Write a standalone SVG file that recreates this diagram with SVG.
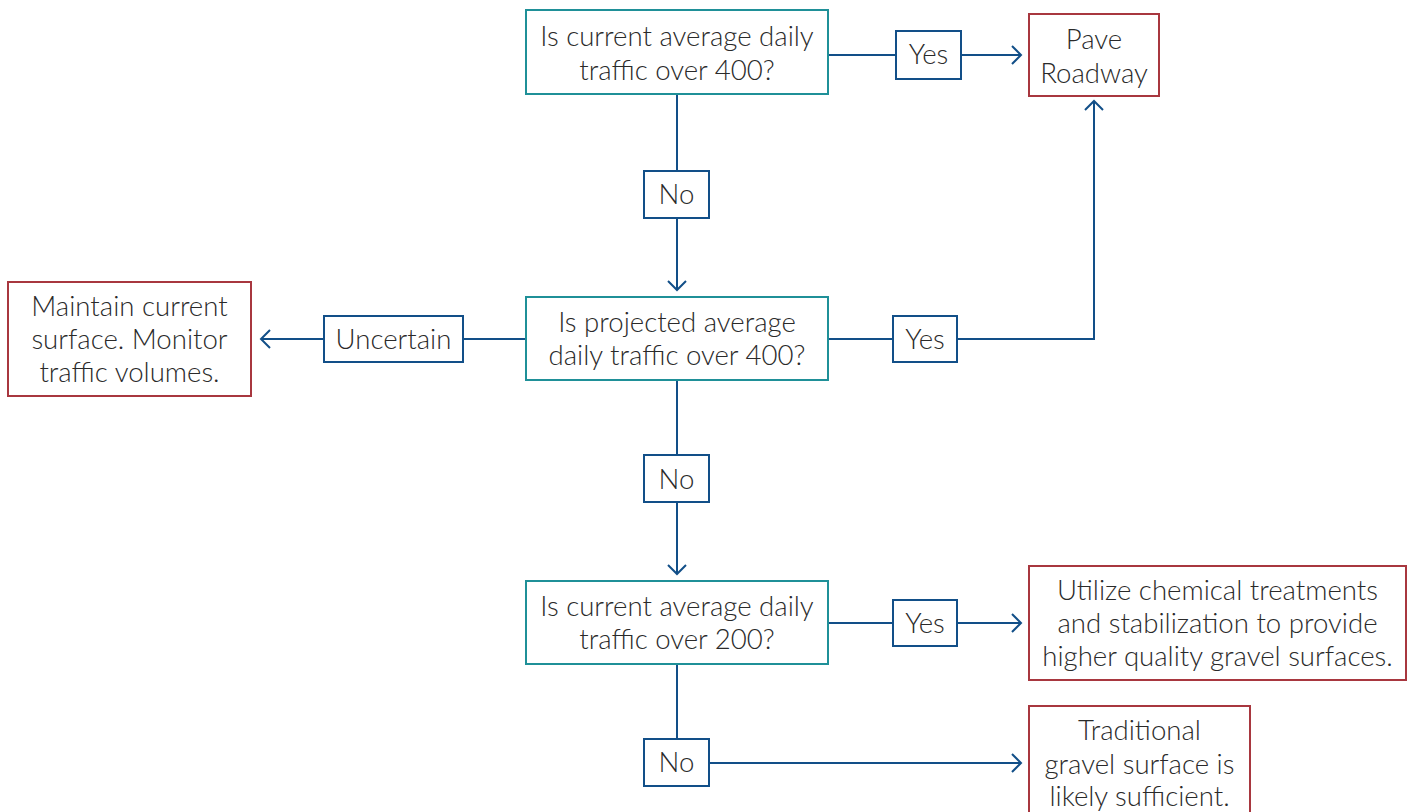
<svg xmlns="http://www.w3.org/2000/svg" width="1414" height="812" viewBox="0 0 1414 812">
<style>
text{font-family:Lato,"Open Sans","Liberation Sans",sans-serif;font-weight:300;font-size:27.6px;fill:#2a2a2a;text-anchor:middle}
.q{fill:#fff;stroke:#1f9098;stroke-width:2}
.r{fill:#fff;stroke:#a8373f;stroke-width:2}
.l{fill:#fff;stroke:#124f88;stroke-width:2}
.c{fill:none;stroke:#124f88;stroke-width:2}
</style>
<defs>
<marker id="ah" markerUnits="userSpaceOnUse" markerWidth="24" markerHeight="24" viewBox="-12 -12 24 24" refX="0" refY="0" orient="auto">
<path d="M-9,-9 L0,0 L-9,9" fill="none" stroke="#124f88" stroke-width="2"/>
</marker>
</defs>
<g id="connectors">
<path class="c" d="M828,55 H896"/>
<path class="c" d="M961,55 H1021" marker-end="url(#ah)"/>
<path class="c" d="M677,94 V171"/>
<path class="c" d="M677,218 V290" marker-end="url(#ah)"/>
<path class="c" d="M526,339 H463"/>
<path class="c" d="M324,339 H261" marker-end="url(#ah)"/>
<path class="c" d="M828,339 H893"/>
<path class="c" d="M957,339 H1094 V101" marker-end="url(#ah)"/>
<path class="c" d="M677,380 V455"/>
<path class="c" d="M677,502 V574" marker-end="url(#ah)"/>
<path class="c" d="M828,623 H893"/>
<path class="c" d="M957,623 H1021" marker-end="url(#ah)"/>
<path class="c" d="M677,664 V739"/>
<path class="c" d="M709,763 H1021" marker-end="url(#ah)"/>
</g>
<g id="q1"><rect class="q" x="526" y="10" width="302" height="84"/><text x="677" y="46">Is current average daily</text><text x="677" y="80">traffic over 400?</text></g>
<g id="yes1"><rect class="l" x="896" y="31" width="65" height="48"/><text x="928.5" y="64">Yes</text></g>
<g id="pave"><rect class="r" x="1029" y="14" width="130" height="82"/><text x="1094" y="49">Pave</text><text x="1094" y="83">Roadway</text></g>
<g id="no1"><rect class="l" x="644" y="171" width="65" height="47"/><text x="676.5" y="204">No</text></g>
<g id="q2"><rect class="q" x="526" y="297" width="302" height="83"/><text x="677" y="332">Is projected average</text><text x="677" y="365">daily traffic over 400?</text></g>
<g id="uncertain"><rect class="l" x="324" y="316" width="139" height="46"/><text x="393.5" y="349">Uncertain</text></g>
<g id="maintain"><rect class="r" x="8" y="282" width="243" height="114"/><text x="129.5" y="316">Maintain current</text><text x="129.5" y="349">surface. Monitor</text><text x="129.5" y="382">traffic volumes.</text></g>
<g id="yes2"><rect class="l" x="893" y="316" width="64" height="46"/><text x="925" y="349">Yes</text></g>
<g id="no2"><rect class="l" x="644" y="455" width="65" height="47"/><text x="676.5" y="489">No</text></g>
<g id="q3"><rect class="q" x="526" y="581" width="302" height="83"/><text x="677" y="616">Is current average daily</text><text x="677" y="649">traffic over 200?</text></g>
<g id="yes3"><rect class="l" x="893" y="600" width="64" height="46"/><text x="925" y="633">Yes</text></g>
<g id="utilize"><rect class="r" x="1029" y="566" width="377" height="114"/><text x="1217.5" y="600">Utilize chemical treatments</text><text x="1217.5" y="633">and stabilization to provide</text><text x="1217.5" y="666">higher quality gravel surfaces.</text></g>
<g id="no3"><rect class="l" x="644" y="739" width="65" height="47"/><text x="676.5" y="772">No</text></g>
<g id="traditional"><rect class="r" x="1029" y="706" width="221" height="120"/><text x="1139.5" y="740">Traditional</text><text x="1139.5" y="774">gravel surface is</text><text x="1139.5" y="806">likely sufficient.</text></g>
</svg>
